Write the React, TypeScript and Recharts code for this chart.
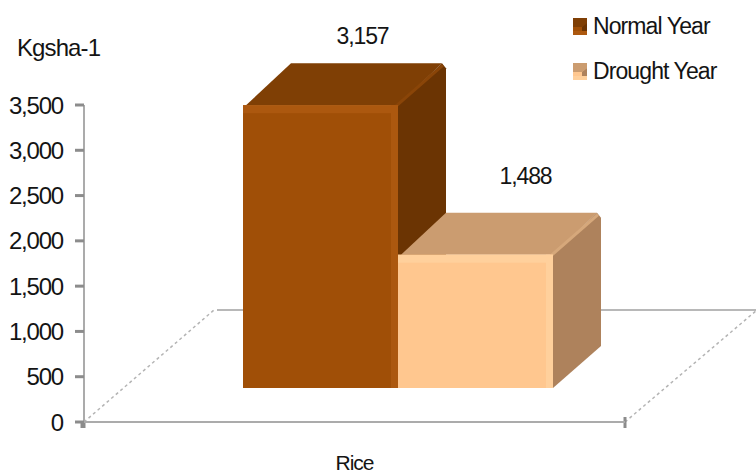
import React from 'react';
import { BarChart, Bar, XAxis, YAxis, Legend, LabelList } from 'recharts';

const categories = ['Rice'];
const normalYear = [3157];
const droughtYear = [1488];
const yTicks = [0, 500, 1000, 1500, 2000, 2500, 3000, 3500];

const data = categories.map((category, i) => ({
  category,
  normal: normalYear[i],
  drought: droughtYear[i],
}));

const FONT = '"Liberation Sans", Arial, sans-serif';
const TEXT = '#141414';

// chart frame
const WIDTH = 756;
const HEIGHT = 473;
const PLOT_LEFT = 84;
const PLOT_RIGHT = 625;
const PLOT_TOP = 105;
const PLOT_BOTTOM = 422;

// 3D projection: floor depth, bars stand halfway back on it
const FLOOR_DX = 132;
const FLOOR_DY = 112;
const BAR_SHIFT_X = 43;
const BAR_SHIFT_Y = 34;
const DEPTH_X = 48;
const DEPTH_Y = 42;
const FORESHORTEN = 0.989;

const palettes: Record<string, any> = {
  normal: { front: '#A04F07', bevel: '#AC580F', top: '#7F3F05', side: '#6B3403', ridge: '#8A4508' },
  drought: { front: '#FFC78F', bevel: '#FFD09C', top: '#CB9C70', side: '#AE825C', ridge: '#D6A87B' },
};

const Box3D = ({ x, y, width, height, palette }: any) => {
  const p = palettes[palette];
  const left = x + BAR_SHIFT_X;
  const right = left + width;
  const bottom = y + height - BAR_SHIFT_Y;
  const top = bottom - height * FORESHORTEN;
  const backTop = top - DEPTH_Y;
  const backRight = right + DEPTH_X;
  return (
    <g>
      <polygon
        points={`${left + 3},${top} ${left + DEPTH_X},${backTop} ${backRight - 4},${backTop} ${right},${top}`}
        fill={p.top}
      />
      <polygon
        points={`${right},${top} ${backRight - 4},${backTop} ${backRight},${backTop + 5} ${backRight},${bottom - DEPTH_Y} ${right},${bottom}`}
        fill={p.side}
      />
      <line x1={right - 2} y1={top + 1} x2={backRight - 3} y2={backTop + 2} stroke={p.ridge} strokeWidth={3} />
      <rect x={left} y={top} width={width} height={bottom - top} fill={p.front} />
      <rect x={left} y={top} width={width} height={8} fill={p.bevel} />
      <rect x={right - 7} y={top} width={7} height={bottom - top} fill={p.bevel} />
    </g>
  );
};

const ValueLabel = ({ x, y, width, value, dx, dy }: any) => (
  <text
    x={x + width / 2 + dx}
    y={y + dy}
    textAnchor="middle"
    fontFamily={FONT}
    fontSize={23}
    letterSpacing={-1.1}
    fill={TEXT}
  >
    {Number(value).toLocaleString('en-US')}
  </text>
);

const LegendSwatch = ({ palette }: any) => {
  const p = palettes[palette];
  return (
    <svg width={14} height={17} style={{ display: 'block' }}>
      <rect width={14} height={17} fill={p.front} />
      <polygon points="0,0 14,0 14,5 9,9 0,9" fill={p.top} />
      <polygon points="9,9 14,5 14,13 9,13" fill={p.side} />
      <rect x={0} y={13} width={14} height={4} fill={p.bevel} />
    </svg>
  );
};

const ChartLegend = ({ payload }: any) => (
  <div>
    {(payload || []).map((item: any) => (
      <div key={item.dataKey} style={{ display: 'flex', alignItems: 'center', height: 45 }}>
        <LegendSwatch palette={item.dataKey} />
        <span
          style={{
            marginLeft: 6,
            fontFamily: FONT,
            fontSize: 23,
            letterSpacing: -0.9,
            color: TEXT,
            whiteSpace: 'nowrap',
          }}
        >
          {item.value}
        </span>
      </div>
    ))}
  </div>
);

export default function App() {
  return (
    <div style={{ position: 'absolute', left: 0, top: 0, width: WIDTH, height: HEIGHT, background: '#fff' }}>
      <BarChart
        width={WIDTH}
        height={HEIGHT}
        data={data}
        margin={{ top: PLOT_TOP, right: WIDTH - PLOT_RIGHT, bottom: 0, left: 0 }}
        barGap={0}
        barCategoryGap={0}
      >
        {/* floor of the 3D box */}
        <g>
          <line
            x1={PLOT_LEFT}
            y1={PLOT_BOTTOM}
            x2={PLOT_LEFT + FLOOR_DX - 2}
            y2={PLOT_BOTTOM - FLOOR_DY}
            stroke="#B4B4B4"
            strokeWidth={1.5}
            strokeDasharray="3 3"
          />
          <line
            x1={PLOT_RIGHT}
            y1={PLOT_BOTTOM}
            x2={PLOT_RIGHT + FLOOR_DX}
            y2={PLOT_BOTTOM - FLOOR_DY}
            stroke="#B4B4B4"
            strokeWidth={1.5}
            strokeDasharray="3 3"
          />
          <line
            x1={PLOT_LEFT + FLOOR_DX + 1}
            y1={PLOT_BOTTOM - FLOOR_DY}
            x2={WIDTH}
            y2={PLOT_BOTTOM - FLOOR_DY}
            stroke="#A0A0A0"
            strokeWidth={1.5}
          />
          <line x1={PLOT_LEFT - 1} y1={PLOT_BOTTOM - 1} x2={PLOT_LEFT - 1} y2={PLOT_BOTTOM + 6} stroke="#8C8C8C" strokeWidth={5} />
          <line x1={PLOT_RIGHT} y1={PLOT_BOTTOM - 5} x2={PLOT_RIGHT} y2={PLOT_BOTTOM + 6} stroke="#8C8C8C" strokeWidth={3} />
        </g>
        <XAxis
          dataKey="category"
          height={HEIGHT - PLOT_BOTTOM}
          axisLine={{ stroke: '#ABABAB', strokeWidth: 2 }}
          tickLine={false}
          tickMargin={27}
          tick={{ fontFamily: FONT, fontSize: 21, fill: TEXT, letterSpacing: -1 }}
        />
        <YAxis
          width={PLOT_LEFT}
          domain={[0, 3500]}
          ticks={yTicks}
          interval={0}
          tickSize={9}
          tickMargin={12}
          axisLine={{ stroke: '#ABABAB', strokeWidth: 2 }}
          tickLine={{ stroke: '#8C8C8C', strokeWidth: 3 }}
          tick={{ fontFamily: FONT, fontSize: 24, fill: TEXT, letterSpacing: -1.2 }}
          tickFormatter={(v: number) => v.toLocaleString('en-US')}
        />
        <Legend
          layout="horizontal"
          verticalAlign="middle"
          align="center"
          itemSorter={null}
          content={<ChartLegend />}
          wrapperStyle={{ position: 'absolute', left: 573, top: 4, width: 170, height: 90 }}
        />
        <Bar
          dataKey="normal"
          name="Normal Year"
          fill={palettes.normal.front}
          barSize={155}
          isAnimationActive={false}
          shape={<Box3D palette="normal" />}
        >
          <LabelList dataKey="normal" content={<ValueLabel dx={85} dy={-92} />} />
        </Bar>
        <Bar
          dataKey="drought"
          name="Drought Year"
          fill={palettes.drought.front}
          barSize={155}
          isAnimationActive={false}
          shape={<Box3D palette="drought" />}
        >
          <LabelList dataKey="drought" content={<ValueLabel dx={93} dy={-103} />} />
        </Bar>
        <text x={17} y={56} fontFamily={FONT} fontSize={24} letterSpacing={-0.9} fill={TEXT}>
          Kgsha-1
        </text>
      </BarChart>
    </div>
  );
}
